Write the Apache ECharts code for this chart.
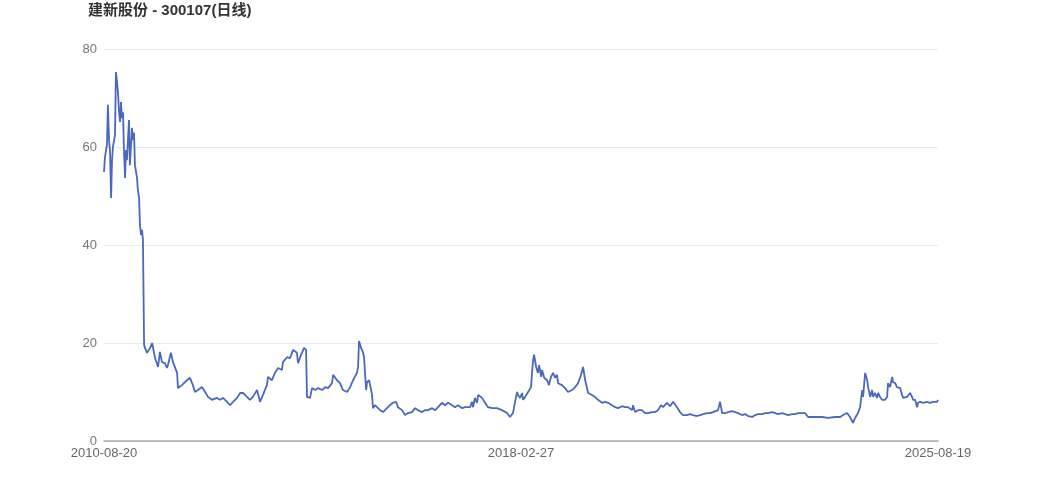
<!DOCTYPE html>
<html>
<head>
<meta charset="utf-8">
<script src="https://cdn.jsdelivr.net/npm/echarts@6/dist/echarts.min.js"></script>
<style>
html,body{margin:0;padding:0;background:#fff;}
#chart{width:1042px;height:500px;}
</style>
</head>
<body>
<div id="chart"></div>
<script>
const titleText = '建新股份 - 300107(日线)';
const xTickLabels = ['2010-08-20', '2018-02-27', '2025-08-19'];
const yTicks = [0, 20, 40, 60, 80];
const totalDays = 3640;

const tradingDay = [
0,4,9,13,17,22,26,31,35,39,44,48,52,57,61,65,70,74,79,83,87,92,96,100,105,109,113,118,122,127,131,135,140,144,148,153,157,162,166,170,175,179,
188,201,210,223,236,244,253,266,275,279,292,301,319,323,340,362,375,388,397,410,428,441,454,471,493,506,519,537,550,563,581,594,607,624,637,650,668,681,694,711,716,733,746,760,777,
781,799,812,825,842,847,856,864,873,882,886,899,908,921,934,952,965,978,995,1000,1017,1030,1043,1061,1074,1087,1104,1109,1113,1122,1131,1135,1144,1148,1157,1170,1174,1183,1192,1205,1218,1235,1248,1261,1275,1283,1301,1314,1327,1344,1358,1371,1388,1401,
1414,1432,1445,1458,1475,1488,1502,1519,1532,1545,1563,1576,1598,1606,1611,1619,1628,1633,1650,1663,1676,1694,1715,1737,1759,1772,1785,1794,1803,1807,1816,1825,1829,1838,1846,1851,1864,1868,1873,1877,1886,1894,1899,1908,1912,1921,1934,1942,1951,1960,1969,1977,1982,1999,2012,2025,2043,2056,
2069,2082,2091,2100,
2113,2130,2143,2156,2174,2187,2200,2217,2231,2244,2261,2274,2287,2305,2309,2318,2331,2348,2361,2375,2392,2405,2418,2431,2440,2457,2471,2484,2501,2514,2527,2545,2558,2571,2588,2602,2615,2632,2645,2658,
2680,2689,2698,2711,2724,2741,2754,2767,2785,2798,2811,2829,2842,2855,2872,2885,2898,2916,2929,2942,2960,2973,2986,3003,3016,3029,3047,3060,3073,3090,3104,3134,3160,3191,3213,3226,3243,3256,3269,3278,3291,3300,3309,3313,3322,3331,3335,3344,3352,3357,3365,3374,3379,3387,3396,3400,3409,3418,3422,3431,3440,3444,3453,3461,3466,3475,3483,3488,3496,3505,3510,3518,3527,3531,3540,3549,3553,3562,3575,3592,3606,3619,3636,3640
];

const closePrice = [
54.9,57.8,59.4,60.4,68.6,61.4,59.4,49.6,57.3,60.0,61.4,62.4,75.3,73.3,71.2,67.6,65.1,69.2,65.9,67.1,59.4,53.7,59.4,57.3,61.8,65.5,56.3,60.4,63.9,61.4,62.9,56.3,54.9,53.7,51.2,49.6,44.1,42.0,43.1,41.0,19.6,19.0,
18.0,19.0,20.0,16.9,15.1,18.2,16.1,15.9,14.9,15.5,18.0,16.1,13.9,10.8,11.4,12.4,12.9,11.4,10.0,10.4,11.0,10.0,9.0,8.4,8.8,8.4,8.8,8.0,7.3,8.0,8.8,9.8,9.8,9.0,8.4,9.0,10.4,8.0,9.4,11.4,13.1,12.4,13.9,14.9,14.5,
16.1,17.1,16.9,18.6,18.0,15.9,17.1,18.0,19.0,18.6,9.0,8.8,10.8,10.4,10.8,10.4,11.0,10.8,11.8,13.5,12.4,11.8,10.4,10.0,11.0,12.4,13.9,15.1,20.4,19.0,18.0,17.1,10.4,12.0,12.4,9.4,6.7,7.3,6.9,6.3,5.9,6.7,7.3,7.8,8.0,6.9,6.3,5.3,5.7,5.9,6.7,6.3,5.9,6.3,
6.3,6.7,6.3,6.9,7.8,7.3,7.8,7.3,6.9,7.3,6.7,6.9,6.9,8.0,6.9,8.8,7.8,9.4,8.8,7.8,6.9,6.7,6.7,6.3,5.7,4.9,5.7,8.0,10.0,9.4,8.8,9.8,8.4,9.0,9.4,10.0,11.0,13.9,16.5,17.6,15.1,13.9,15.5,13.1,14.5,12.9,12.4,11.4,13.1,13.9,12.9,13.5,11.8,11.4,10.8,10.0,10.4,11.0,
11.8,13.5,15.1,12.4,
9.8,9.4,9.0,8.4,7.8,8.0,7.8,7.3,6.9,6.7,7.1,6.9,6.9,6.3,7.3,5.9,6.3,6.3,5.7,5.7,5.9,5.9,6.3,7.3,6.9,7.8,7.1,8.0,6.9,5.9,5.3,5.3,5.5,5.3,5.1,5.3,5.5,5.7,5.7,5.9,
6.3,8.0,5.7,5.7,5.9,6.1,5.9,5.7,5.3,5.5,5.1,4.9,5.3,5.5,5.5,5.7,5.7,5.9,5.7,5.5,5.7,5.5,5.3,5.5,5.5,5.7,5.7,5.7,4.9,4.9,4.9,4.9,4.7,4.9,4.9,5.3,5.7,4.9,3.7,4.7,5.7,6.9,10.4,9.0,13.9,12.4,11.0,9.0,10.4,9.0,9.8,8.8,9.8,9.0,8.4,8.0,8.4,9.0,11.8,11.0,13.1,12.0,11.8,11.0,11.4,10.8,9.4,8.8,8.8,9.0,9.4,9.8,9.0,8.4,8.4,6.9,7.8,8.0,7.8,8.0,7.8,8.0,8.0,8.4
];

const seriesData = tradingDay.map((d, i) => [d, closePrice[i]]);

const chart = echarts.init(document.getElementById('chart'), null, {renderer: 'canvas'});
chart.setOption({
  animation: false,
  backgroundColor: '#ffffff',
  title: {
    text: titleText,
    left: 88,
    top: 3,
    padding: 0,
    textStyle: {
      fontFamily: 'Liberation Sans, Noto Sans CJK SC, sans-serif',
      fontSize: 15,
      fontWeight: 'bold',
      color: '#333333'
    }
  },
  grid: {left: 104, right: 104, top: 49, bottom: 59, containLabel: false},
  xAxis: {
    type: 'value',
    min: 0,
    max: totalDays,
    interval: totalDays / 2,
    axisLine: {show: true, lineStyle: {color: '#aaaaaa', width: 1.5}},
    axisTick: {show: false},
    splitLine: {show: false},
    axisLabel: {
      margin: 6,
      color: '#666666',
      fontSize: 13,
      fontFamily: 'Liberation Sans, sans-serif',
      formatter: function (v) {
        const idx = Math.round(v / (totalDays / 2));
        return xTickLabels[idx] || '';
      }
    }
  },
  yAxis: {
    type: 'value',
    min: yTicks[0],
    max: yTicks[yTicks.length - 1],
    interval: yTicks[1] - yTicks[0],
    axisLine: {show: false},
    axisTick: {show: false},
    splitLine: {lineStyle: {color: '#e6e9f2'}},
    axisLabel: {
      margin: 7,
      color: '#777777',
      fontSize: 13,
      fontFamily: 'Liberation Sans, sans-serif'
    }
  },
  series: [{
    type: 'line',
    data: seriesData,
    showSymbol: false,
    symbol: 'none',
    lineStyle: {color: '#4a68bd', width: 1.8},
    itemStyle: {color: '#4a68bd'}
  }]
});
</script>
</body>
</html>
